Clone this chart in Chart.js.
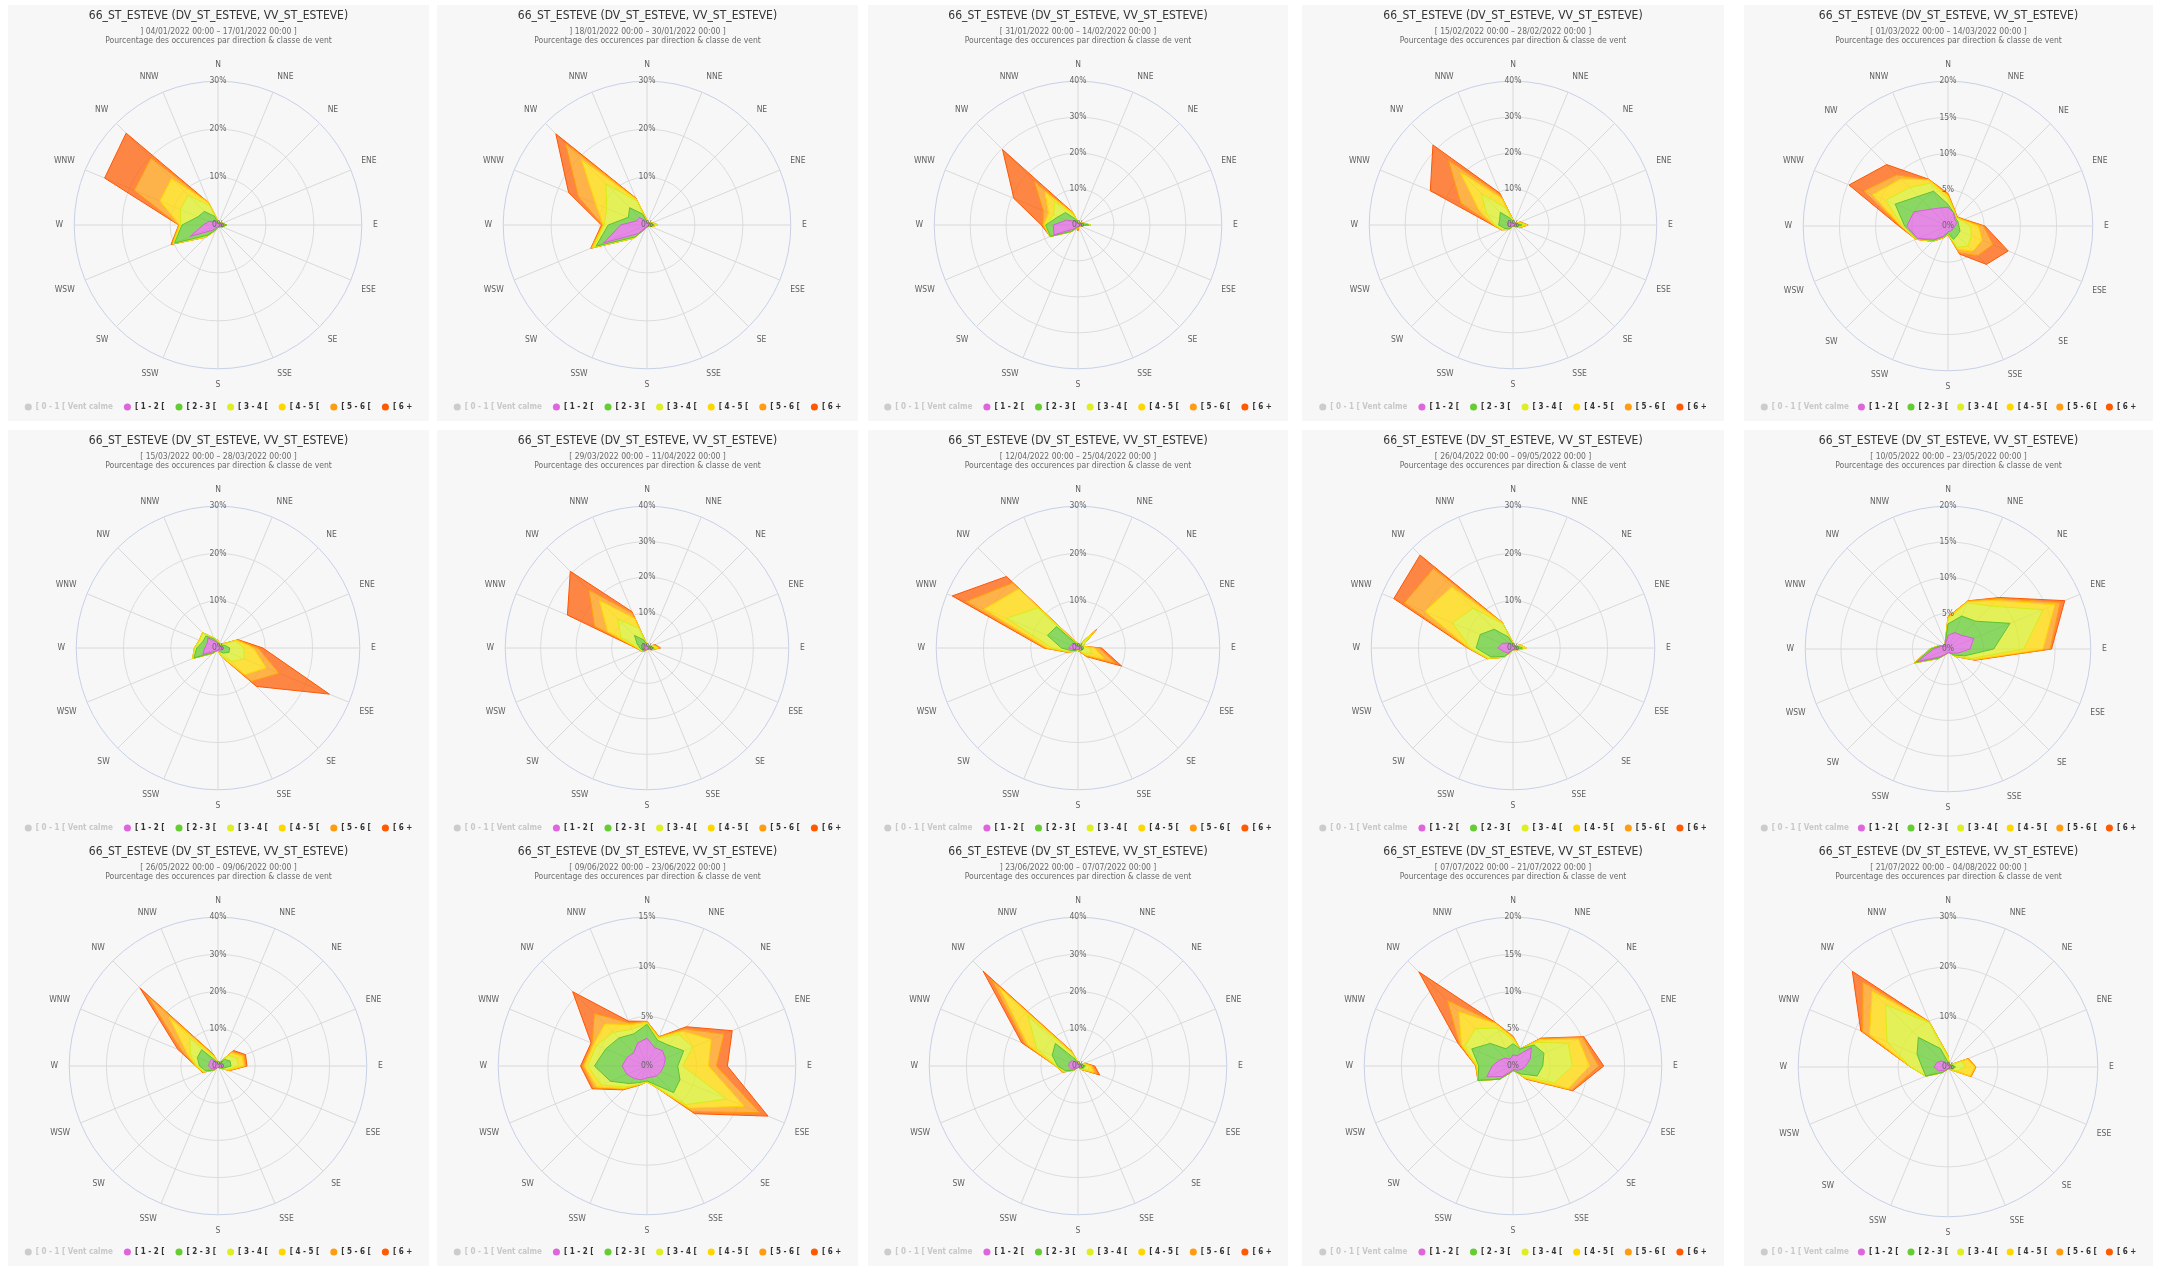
<!DOCTYPE html>
<html>
<head>
<meta charset="utf-8">
<script src="https://cdn.jsdelivr.net/npm/chart.js@4.4.1/dist/chart.umd.min.js"></script>
<style>
  html, body { margin: 0; padding: 0; background: #ffffff; width: 2170px; height: 1266px; overflow: hidden; }
  .panel { position: absolute; background: #f7f7f7; }
  .panel canvas { position: absolute; left: 0; top: 0; }
</style>
</head>
<body>
<script>
// Wind direction sectors, clockwise from north
const directions = ['N','NNE','NE','ENE','E','ESE','SE','SSE','S','SSW','SW','WSW','W','WNW','NW','NNW'];

// Wind speed classes (legend order)
const classes = ['[ 0 - 1 [ Vent calme','[ 1 - 2 [','[ 2 - 3 [','[ 3 - 4 [','[ 4 - 5 [','[ 5 - 6 [','[ 6 +'];

const stationTitle = '66_ST_ESTEVE (DV_ST_ESTEVE, VV_ST_ESTEVE)';
const subtitleText = 'Pourcentage des occurences par direction & classe de vent';

const periods = [
  '] 04/01/2022 00:00 – 17/01/2022 00:00 ]',
  '] 18/01/2022 00:00 – 30/01/2022 00:00 ]',
  '[ 31/01/2022 00:00 – 14/02/2022 00:00 ]',
  '[ 15/02/2022 00:00 – 28/02/2022 00:00 ]',
  '[ 01/03/2022 00:00 – 14/03/2022 00:00 ]',
  '[ 15/03/2022 00:00 – 28/03/2022 00:00 ]',
  '[ 29/03/2022 00:00 – 11/04/2022 00:00 ]',
  '[ 12/04/2022 00:00 – 25/04/2022 00:00 ]',
  '[ 26/04/2022 00:00 – 09/05/2022 00:00 ]',
  '[ 10/05/2022 00:00 – 23/05/2022 00:00 ]',
  '[ 26/05/2022 00:00 – 09/06/2022 00:00 ]',
  '[ 09/06/2022 00:00 – 23/06/2022 00:00 ]',
  '] 23/06/2022 00:00 – 07/07/2022 00:00 ]',
  '[ 07/07/2022 00:00 – 21/07/2022 00:00 ]',
  '[ 21/07/2022 00:00 – 04/08/2022 00:00 ]'
];

// Radial axis range per period (percent)
const scaleMax  = [30, 30, 40, 40, 20, 30, 40, 30, 30, 20, 40, 15, 40, 20, 30];
const scaleStep = [10, 10, 10, 10,  5, 10, 10, 10, 10,  5, 10,  5, 10,  5, 10];

// Occurrence % per speed class (rows: [1-2[ .. [6+) and direction (columns)
const p01 = [
  [0.3,0.3,0.3,0.5,1.0,0.5,0.3,0.3,0.3,0.5,1.5,6.3,3.1,2.0,1.0,0.5],
  [0.2,0.2,0.2,0.5,0.8,0.5,0.2,0.2,0.2,0.5,1.5,3.5,4.4,2.5,3.0,1.5],
  [0.1,0,0,0,0,0,0,0,0.1,0.2,0.5,0.2,0.3,4.0,4.8,2.3],
  [0.2,0.1,0,0,0,0,0,0,0,0,0.1,0.2,0.2,4.6,4.9,0.7],
  [0,0,0,0,0,0,0,0,0,0,0,0.2,0.2,5.8,6.1,0],
  [0,0,0,0,0,0,0,0,0,0,0,0.2,0,6.7,7.3,0]
];
const p02 = [
  [0.5,0.3,0.3,0.5,0.5,0.3,0.3,0.3,0.3,0.5,2.5,9.8,5.5,2.3,2.2,1.0],
  [0.2,0.1,0.1,0.5,1.0,0.3,0.1,0.1,0.1,0.3,1.0,1.7,2.6,1.9,2.9,1.5],
  [0.1,0.1,0.1,0.2,0.7,0.2,0,0,0,0,0.3,0.5,0.8,4.9,7.0,2.9],
  [0.1,0,0,0.1,0.1,0.1,0,0,0,0,0.1,0.4,0.2,2.5,7.3,0.4],
  [0.1,0,0,0,0,0,0,0,0,0,0,0.2,0.2,3.9,4.7,0.2],
  [0,0,0,0,0,0,0,0,0,0,0,0.1,0.2,2.2,2.8,0.1]
];
const p03 = [
  [0.5,0.3,0.3,0.5,1.0,0.3,0.3,0.3,0.5,0.5,1.5,7.2,6.9,3.5,1.5,0.8],
  [0.2,0.2,0.2,0.7,2.0,0.2,0.1,0.1,0.3,0.3,1.0,1.1,2.1,2.5,3.4,1.0],
  [0.1,0,0.1,0.3,0.5,0.1,0,0,0.1,0.1,0.1,0.1,0.3,1.3,4.4,1.2],
  [0,0,0,0,0,0,0,0,0.1,0,0,0,0.2,1.6,3.7,0.5],
  [0,0,0,0,0,0,0,0.1,0.3,0.1,0,0,0.3,1.6,4.2,0.2],
  [0,0,0,0,0,0,0,0.1,0.3,0,0,0,0.4,8.8,12.5,0.1]
];
const p04 = [
  [0.5,0.3,0.3,0.5,1.0,0.5,0.3,0.3,0.3,0.3,0.8,1.0,1.5,1.5,1.0,0.5],
  [0.5,0.2,0.2,0.5,1.5,0.5,0.2,0,0,0.2,0.7,1.5,2.5,2.5,4.0,1.5],
  [0.3,0,0.1,0.5,1.0,0.5,0,0,0,0,0.3,0.7,1.0,3.9,7.5,3.0],
  [0.1,0,0,0.5,0.5,0.3,0,0,0,0,0,0.2,0.3,2.2,8.3,3.0],
  [0.1,0,0,0.2,0.2,0.1,0,0,0,0,0,0.1,0.2,5.6,4.6,1.0],
  [0,0,0,0,0,0.1,0,0,0,0,0,0,0.2,9.2,6.1,0.6]
];
const p05 = [
  [2.6,2.0,1.3,1.3,1.0,0.8,0.8,0.8,0.8,1.5,2.6,4.5,5.7,5.1,3.3,2.7],
  [0.4,0,0.2,0.2,0.5,1.0,1.0,1.2,0.2,0.1,0.2,0.1,0.3,2.8,2.5,2.5],
  [0.8,0.2,0.1,0.5,1.6,1.7,2.1,1.2,0.1,0.1,0.1,0.1,0.3,1.4,1.7,1.2],
  [0.4,0.1,0.1,0.2,1.1,1.6,1.0,0.3,0,0,0.1,0.1,0.2,2.0,1.7,0.5],
  [0.2,0.1,0,0.1,0.7,1.6,0.9,0.5,0.1,0.1,0,0,0.1,1.3,0.8,0],
  [0.1,0,0.1,0.1,0.2,2.3,1.7,0.2,0,0,0,0,0.2,2.2,2.0,0.1]
];
const p06 = [
  [0.8,0.5,0.5,0.8,1.0,1.0,0.5,0.5,0.5,0.5,1.0,3.5,2.8,2.5,3.0,1.5],
  [0.4,0.3,0.3,0.7,1.5,1.5,1.0,0.3,0,0.1,0.5,2.0,1.7,1.0,0.6,0.5],
  [0.3,0.2,0.2,2.5,3.0,3.5,2.5,0.7,0.1,0,0.1,0.3,0.5,0.7,1.0,0.3],
  [0.1,0,0.2,0.3,2.0,5.0,4.0,0.5,0,0,0,0,0,0.1,0,0],
  [0,0,0,0.2,1.0,3.0,2.0,0,0,0,0,0,0,0,0,0],
  [0,0,0,0.1,1.0,11.5,1.5,0,0,0,0,0,0,0,0,0]
];
const p07 = [
  [0.5,0.3,0.3,0.5,1.0,0.5,0.3,0.3,0.3,0.5,1.0,1.0,1.0,1.0,1.5,0.8],
  [0.3,0.2,0.2,0.5,1.0,0.3,0.2,0,0.1,0.1,0.3,0.5,1.0,2.0,3.5,1.7],
  [0.2,0,0.1,0.5,0.8,0.2,0,0.1,0.1,0,0.1,0.3,0.5,5.0,6.6,3.5],
  [0,0,0,0.5,0.5,0.2,0,0,0,0,0,0.1,0.3,4.0,7.4,3.0],
  [0,0,0,0.3,0.3,0.1,0,0,0,0,0,0.1,0.2,4.0,4.2,1.5],
  [0,0,0,0.2,0.2,0.1,0,0,0,0,0,0,0.1,8.3,7.4,0.6]
];
const p08 = [
  [0.5,0.3,0.5,0.3,0.5,0.5,0.5,0.3,0.3,0.3,0.5,1.0,2.0,1.5,1.5,0.5],
  [0.3,0.2,0.5,0.3,0.5,0.5,0.3,0.1,0,0.1,0.3,0.5,1.5,5.5,4.9,0.5],
  [0.2,0.3,3.0,0.4,1.5,2.0,0.7,0.1,0.1,0.1,0.2,0.5,2.0,9.4,5.6,0.3],
  [0,0,1.0,0,1.0,3.0,0.5,0.1,0.1,0,0,0.2,1.0,5.1,5.7,0.1],
  [0,0,0.5,0,1.0,2.5,0.4,0.1,0.1,0,0,0.1,0.5,4.2,1.8,0.1],
  [0,0,0.1,0,0.5,1.5,0.2,0.1,0,0,0,0.1,0.2,3.1,1.9,0]
];
const p09 = [
  [0.5,0.3,0.3,0.5,1.0,0.5,0.3,0.3,0.3,0.5,1.5,2.0,3.2,2.5,1.5,1.0],
  [0.3,0.2,0.2,0.5,1.0,0.3,0.2,0.1,0.1,0.2,1.0,3.0,4.6,5.0,4.1,1.5],
  [0.2,0.1,0.1,0.5,0.8,0.2,0,0,0,0.1,0.3,0.7,1.2,6.4,6.3,3.0],
  [0.1,0,0,0.2,0,0,0,0,0,0,0,0.1,0.3,6.3,6.4,0.2],
  [0,0,0,0,0,0,0,0,0,0,0,0.1,0.2,4.7,5.5,0.1],
  [0,0,0,0,0,0,0,0,0,0,0,0,0.1,2.4,4.0,0]
];
const p10 = [
  [1.9,2.5,2.7,3.9,3.1,1.5,0.8,0.5,0.5,0.8,1.5,4.6,2.0,1.0,0.5,0.8],
  [1.6,2.5,2.8,5.5,3.3,1.0,0.4,0.1,0,0,0.3,0.3,0.4,0.2,0.1,0.2],
  [0.7,2.0,3.0,5.0,4.2,1.0,0.2,0,0,0,0.1,0.1,0.2,0.1,0,0],
  [0.2,0.2,1.1,1.8,2.7,0.4,0.1,0,0,0,0,0.1,0,0,0,0],
  [0.1,0.1,0.4,0.8,1.0,0.1,0,0,0,0,0,0,0,0,0,0],
  [0,0,0.2,0.7,0.2,0.1,0,0,0,0,0,0,0,0,0,0]
];
const p11 = [
  [0.5,0.5,1.0,1.5,1.5,0.8,0.5,0.3,0.3,0.5,1.0,2.0,2.5,2.5,2.5,1.0],
  [0.3,0.3,1.5,2.0,2.0,0.7,0.3,0,0,0.1,0.5,1.5,2.5,3.5,3.7,0.5],
  [0.2,0.2,1.5,2.0,2.0,1.0,0,0.1,0,0,0.1,0.5,0.7,2.0,4.6,1.0],
  [0,0,1.0,1.5,1.5,0.5,0,0,0,0,0,0.3,0.2,1.0,7.8,0.5],
  [0,0,0.5,0.6,0.5,0.2,0,0,0,0,0,0.1,0.1,1.5,8.4,0.3],
  [0,0,0.4,0.4,0.3,0.1,0,0,0,0,0,0.1,0,1.2,2.7,0.2]
];
const p12 = [
  [2.8,2.0,2.2,2.0,1.7,1.5,1.4,1.2,1.2,1.5,1.8,2.2,2.5,2.2,1.9,2.5],
  [1.4,0.8,0.8,2.0,1.4,2.1,2.4,0.8,0.3,0.3,0.7,1.8,2.8,2.3,2.1,1.0],
  [0.1,0.2,1.5,1.0,0.5,5.1,1.7,0.2,0.1,0.2,0.5,1.0,0.7,1.0,0.8,0.5],
  [0.1,0.1,0.5,2.0,2.6,1.9,0.5,0.1,0,0,0.2,0.5,0.3,0.3,1.2,0.5],
  [0.1,0.1,0.3,1.4,0.8,1.7,0.5,0,0,0.1,0.1,0.3,0.2,0.2,1.5,0.2],
  [0,0,0.3,0.9,1.1,0.9,0.3,0,0,0,0.1,0.2,0.2,0.1,3.1,0.2]
];
const p13 = [
  [0.5,0.3,0.3,0.5,1.0,0.8,0.5,0.3,0.3,0.5,1.0,2.0,2.5,2.5,2.0,1.0],
  [0.3,0.2,0.2,0.5,1.0,0.7,0.3,0.1,0.1,0.1,0.5,1.5,3.0,5.0,6.6,1.0],
  [0.2,0.1,0.1,0.5,1.0,1.5,0.2,0,0,0,0.1,0.5,0.3,4.5,10.4,1.5],
  [0,0,0,0.3,0.5,1.5,0.2,0,0,0,0,0.2,0.1,2.5,11.0,0.3],
  [0,0,0,0.2,0.5,1.0,0.1,0,0,0,0,0.1,0.1,1.0,3.0,0.2],
  [0,0,0,0,0.5,0.8,0.1,0,0,0,0,0.1,0,0.9,3.1,0.2]
];
const p14 = [
  [1.5,1.5,3.5,2.5,1.7,1.2,0.8,0.5,0.5,0.8,2.0,3.8,2.8,2.0,1.5,1.0],
  [1.5,1.0,0.5,2.0,2.3,2.3,0.7,0.3,0.1,0.2,0.5,1.3,1.8,4.0,2.8,1.5],
  [0.5,0,0.5,3.5,4.0,2.5,0.5,0,0,0,0,0,0.2,1.0,2.8,3.0],
  [0.3,0,0.5,1.5,2.3,2.0,0.3,0,0,0,0,0,0.1,0.5,3.2,0.7],
  [0.2,0,0.2,0.6,1.2,0.5,0.1,0,0,0,0,0,0.1,0.3,2.2,0.1],
  [0,0,0.1,0.2,0.7,0.2,0.1,0,0,0,0,0,0,0.2,5.4,0.1]
];
const p15 = [
  [0.5,0.3,0.3,0.5,0.8,0.5,0.3,0.3,0.3,0.5,1.0,2.0,2.8,2.4,1.7,1.0],
  [0.5,0.2,0.2,0.5,0.7,0.5,0.2,0.1,0.1,0.1,0.5,2.8,2.4,4.3,6.7,3.0],
  [1.0,0.1,0.1,2.0,2.0,1.0,0.1,0,0,0,0.1,0,2.3,6.5,9.3,5.5],
  [0.2,0,0,1.2,1.9,2.8,0.2,0,0,0,0,0,0,3.8,3.8,0.2],
  [0.1,0,0,0.2,0.2,0.2,0,0,0,0,0,0,0,1.5,2.6,0.1],
  [0,0,0,0,0,0,0,0,0,0,0,0,0,0.4,3.0,0]
];

const periodData = [p01,p02,p03,p04,p05,p06,p07,p08,p09,p10,p11,p12,p13,p14,p15];

// Styling
const legendColors = ['#cccccc','#dd66dd','#66cc33','#ddee22','#ffd700','#ff9c10','#ff5a00'];
const fillColors = ['rgba(221,102,221,0.75)','rgba(102,204,51,0.75)','rgba(221,238,34,0.75)',
                    'rgba(255,215,0,0.75)','rgba(255,156,16,0.75)','rgba(255,90,0,0.72)'];
const lineColors = ['#d060d0','#5cc22a','#d8ea10','#ffd000','#ff9800','#ff5500'];
const narrow = "'Liberation Sans Narrow', 'DejaVu Sans Condensed', 'Arial Narrow', 'Liberation Sans', sans-serif";

// Grid of panels
const colLeft  = [8, 437, 868, 1302, 1744];
const colWidth = [421, 421, 420, 422, 409];
const rowTop    = [5, 430, 841];
const rowHeight = [416, 412, 425];

function stackRows(rows) {
  const out = [];
  let run = directions.map(() => 0);
  rows.forEach(r => {
    run = run.map((v, d) => Math.round((v + r[d]) * 100) / 100);
    out.push(run);
  });
  return out;
}

periodData.forEach((rows, i) => {
  const col = i % 5, row = Math.floor(i / 5);
  const div = document.createElement('div');
  div.className = 'panel';
  div.style.left = colLeft[col] + 'px';
  div.style.top = rowTop[row] + 'px';
  div.style.width = colWidth[col] + 'px';
  div.style.height = rowHeight[row] + 'px';
  const cv = document.createElement('canvas');
  cv.width = colWidth[col];
  cv.height = rowHeight[row];
  cv.style.width = colWidth[col] + 'px';
  cv.style.height = rowHeight[row] + 'px';
  div.appendChild(cv);
  document.body.appendChild(div);

  const stacked = stackRows(rows);
  const datasets = [{
    label: classes[0], data: directions.map(() => 0), hidden: true,
    backgroundColor: legendColors[0], borderColor: legendColors[0], pointRadius: 0
  }];
  stacked.forEach((vals, k) => datasets.push({
    label: classes[k + 1],
    data: vals,
    fill: k === 0 ? 'origin' : '-1',
    backgroundColor: fillColors[k],
    borderColor: lineColors[k],
    borderWidth: 1,
    pointRadius: 0,
    pointHoverRadius: 0
  }));

  const maxV = scaleMax[i];
  // narrower last column keeps the legend on one row with tighter spacing
  const legendGap = colWidth[col] < 415 ? 9 : 11;
  new Chart(cv, {
    type: 'radar',
    data: { labels: directions, datasets },
    options: {
      responsive: false,
      animation: false,
      devicePixelRatio: 1,
      layout: { padding: { left: 0, right: 0, top: 0, bottom: 0 } },
      elements: { line: { tension: 0 } },
      plugins: {
        tooltip: { enabled: false },
        title: {
          display: true, text: stationTitle, color: '#333333',
          font: { family: narrow, size: 12, weight: 'normal' },
          padding: { top: 4, bottom: 3 }
        },
        subtitle: {
          display: true, text: [periods[i], subtitleText], color: '#6a6a6a',
          font: { family: narrow, size: 8.5, weight: 'normal', lineHeight: 1.08 },
          padding: { top: 1, bottom: 14 }
        },
        legend: {
          position: 'bottom',
          onClick: null,
          labels: {
            usePointStyle: true, pointStyle: 'circle', boxWidth: 7, boxHeight: 5, padding: legendGap,
            color: '#333333',
            font: { family: narrow, size: 8, weight: 'bold' },
            generateLabels(chart) {
              return chart.data.datasets.map((ds, j) => ({
                text: ds.label, fillStyle: legendColors[j], strokeStyle: legendColors[j],
                lineWidth: 0, hidden: false, datasetIndex: j, pointStyle: 'circle',
                fontColor: j === 0 ? '#c8c8c8' : '#333333'
              }));
            }
          }
        }
      },
      scales: {
        r: {
          min: 0, max: maxV,
          startAngle: 0,
          afterBuildTicks(scale) { scale.ticks.unshift({ value: 0 }); },
          ticks: {
            stepSize: scaleStep[i],
            callback: v => v + '%',
            showLabelBackdrop: false,
            color: '#666666',
            font: { family: narrow, size: 8.5 },
            z: 1
          },
          grid: {
            circular: true,
            lineWidth: 1,
            color: ctx => (ctx.tick && ctx.tick.value === maxV) ? '#c6d0e6' : '#dcdcdc'
          },
          angleLines: { color: '#d8d8d8', lineWidth: 1 },
          pointLabels: {
            color: '#606060', padding: 5,
            font: { family: narrow, size: 8.5 }
          }
        }
      }
    }
  });
});
</script>
</body>
</html>
